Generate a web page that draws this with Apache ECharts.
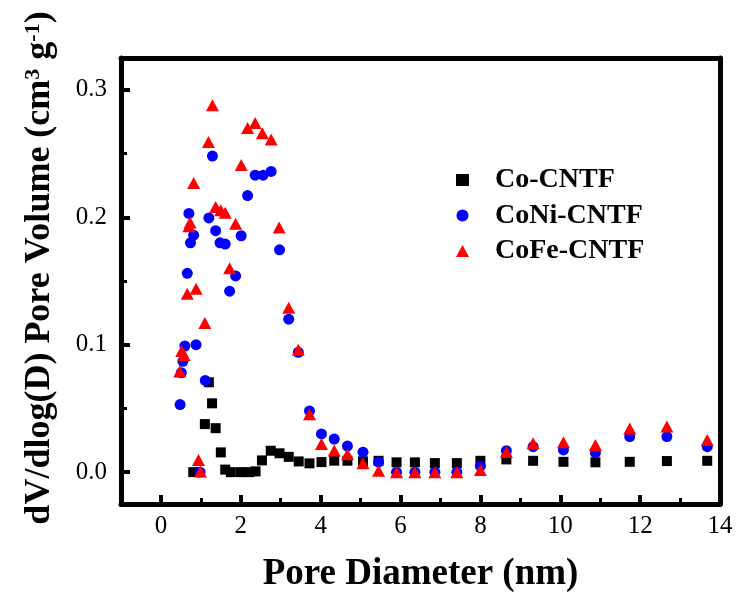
<!DOCTYPE html>
<html>
<head>
<meta charset="utf-8">
<title>Pore size distribution</title>
<script src="https://cdn.jsdelivr.net/npm/echarts@6/dist/echarts.min.js"></script>
<style>
  html, body { margin: 0; padding: 0; background: #fff; }
  #chart { width: 740px; height: 598px; }
</style>
</head>
<body>
<div id="chart"></div>
<script>
// pore diameter (nm) and dV/dlog(D)
var coX = [0.81, 1.10, 1.20, 1.28, 1.37, 1.50, 1.61, 1.75, 2.00, 2.21, 2.37, 2.53, 2.75, 2.97, 3.20, 3.45, 3.72, 4.02, 4.34, 4.67, 5.06, 5.45, 5.90, 6.36, 6.86, 7.41, 8.00, 8.65, 9.32, 10.08, 10.88, 11.74, 12.67, 13.68];
var coY = [0.000, 0.0377, 0.0705, 0.054, 0.0345, 0.0155, 0.002, 0.000, 0.000, 0.000, 0.0006, 0.0092, 0.0168, 0.0148, 0.012, 0.0084, 0.0069, 0.0079, 0.009, 0.009, 0.0084, 0.0089, 0.0077, 0.0077, 0.0071, 0.0071, 0.0089, 0.010, 0.0089, 0.0081, 0.0077, 0.0081, 0.0087, 0.0089];

var coniX = [0.48, 0.51, 0.55, 0.60, 0.66, 0.70, 0.74, 0.82, 0.88, 0.98, 1.11, 1.20, 1.29, 1.37, 1.48, 1.61, 1.72, 1.87, 2.01, 2.17, 2.36, 2.56, 2.76, 2.97, 3.20, 3.44, 3.72, 4.02, 4.34, 4.67, 5.06, 5.45, 5.90, 6.36, 6.86, 7.41, 8.00, 8.65, 9.32, 10.08, 10.88, 11.74, 12.67, 13.68];
var coniY = [0.053, 0.078, 0.087, 0.099, 0.156, 0.203, 0.180, 0.186, 0.100, 0.000, 0.072, 0.1995, 0.248, 0.1895, 0.180, 0.179, 0.142, 0.154, 0.1855, 0.217, 0.233, 0.233, 0.236, 0.1745, 0.120, 0.094, 0.048, 0.030, 0.026, 0.0205, 0.0156, 0.0079, 0.000, 0.000, 0.000, 0.000, 0.0047, 0.0168, 0.020, 0.0174, 0.0152, 0.0279, 0.0279, 0.020];

var cofeX = [0.47, 0.52, 0.58, 0.66, 0.70, 0.73, 0.82, 0.88, 0.94, 0.99, 1.10, 1.19, 1.29, 1.37, 1.50, 1.61, 1.72, 1.87, 2.01, 2.17, 2.36, 2.54, 2.76, 2.96, 3.20, 3.44, 3.72, 4.02, 4.34, 4.67, 5.06, 5.45, 5.90, 6.36, 6.86, 7.41, 8.00, 8.65, 9.32, 10.08, 10.88, 11.74, 12.67, 13.68];
var cofeY = [0.079, 0.095, 0.092, 0.140, 0.193, 0.196, 0.227, 0.144, 0.0095, 0.0005, 0.117, 0.259, 0.288, 0.208, 0.2055, 0.2035, 0.160, 0.195, 0.241, 0.270, 0.274, 0.266, 0.261, 0.192, 0.129, 0.096, 0.0455, 0.022, 0.017, 0.014, 0.0069, 0.001, 0.000, 0.000, 0.000, 0.000, 0.0016, 0.0158, 0.0227, 0.0234, 0.0213, 0.0342, 0.0358, 0.0253];

var seriesNames = ['Co-CNTF', 'CoNi-CNTF', 'CoFe-CNTF'];
var xTicks = [0, 2, 4, 6, 8, 10, 12, 14];
var xMinorTicks = [1, 3, 5, 7, 9, 11, 13];
var yTicks = [0, 0.1, 0.2, 0.3];
var yMinorTicks = [0.05, 0.15, 0.25];

function pairs(xs, ys) {
  var out = [];
  for (var i = 0; i < xs.length; i++) out.push([xs[i], ys[i]]);
  return out;
}

var serif = '"Liberation Serif", "Times New Roman", serif';
var chart = echarts.init(document.getElementById('chart'));

var X_RANGE = { min: -1, max: 14 };
var Y_RANGE = { min: -0.025, max: 0.325 };

// axis that only draws a frame side and/or inward ticks
function frameAxis(range, position, showLine, ticks, len) {
  return {
    type: 'value',
    min: range.min, max: range.max,
    position: position,
    z: 5,
    axisLine: { show: showLine, onZero: false, lineStyle: { color: '#000', width: 5 } },
    axisTick: ticks ? { show: true, inside: true, length: len, lineStyle: { width: 3, color: '#000' }, customValues: ticks } : { show: false },
    axisLabel: { show: false },
    splitLine: { show: false }
  };
}

var option = {
  backgroundColor: '#fff',
  animation: false,
  grid: { left: 121, right: 20, top: 58, bottom: 94, show: false },
  legend: {
    orient: 'vertical',
    left: 456,
    top: 165,
    padding: 0,
    itemGap: 5.5,
    itemWidth: 13,
    itemHeight: 12,
    data: seriesNames,
    textStyle: {
      fontFamily: serif,
      fontWeight: 'bold',
      fontSize: 28,
      color: '#000',
      lineHeight: 30,
      padding: [0, 0, 0, 21]
    }
  },
  xAxis: [{
    type: 'value',
    min: X_RANGE.min, max: X_RANGE.max,
    position: 'bottom',
    z: 5,
    name: 'Pore Diameter (nm)',
    nameLocation: 'middle',
    nameGap: 52,
    nameTextStyle: { fontFamily: serif, fontWeight: 'bold', fontSize: 37, color: '#000' },
    axisLine: { show: true, onZero: false, lineStyle: { color: '#000', width: 5 } },
    axisTick: { show: true, inside: true, length: 9, lineStyle: { width: 4, color: '#000' }, customValues: xTicks },
    axisLabel: { fontFamily: serif, fontSize: 25, color: '#000', margin: 10, customValues: xTicks },
    splitLine: { show: false }
  },
  frameAxis(X_RANGE, 'bottom', false, xMinorTicks, 6),
  frameAxis(X_RANGE, 'top', true, null, 0)],
  yAxis: [{
    type: 'value',
    min: Y_RANGE.min, max: Y_RANGE.max,
    position: 'left',
    z: 5,
    axisLine: { show: true, onZero: false, lineStyle: { color: '#000', width: 5 } },
    axisTick: { show: true, inside: true, length: 9, lineStyle: { width: 4, color: '#000' }, customValues: yTicks },
    axisLabel: {
      fontFamily: serif, fontSize: 25, color: '#000', margin: 14,
      customValues: yTicks,
      formatter: function (v) { return v.toFixed(1); }
    },
    splitLine: { show: false }
  },
  frameAxis(Y_RANGE, 'left', false, yMinorTicks, 6),
  frameAxis(Y_RANGE, 'right', true, null, 0)],
  graphic: [{
    type: 'text',
    x: 40, y: 268,
    rotation: Math.PI / 2,
    style: {
      text: '{t|dV/dlog(D) Pore Volume (cm}{s|3}{t| g}{s|-1}{t|)}',
      align: 'center',
      verticalAlign: 'middle',
      rich: {
        t: { fontFamily: serif, fontWeight: 'bold', fontSize: 36, fill: '#000' },
        s: { fontFamily: serif, fontWeight: 'bold', fontSize: 22, fill: '#000', verticalAlign: 'top', padding: [0, 0, 14, 0] }
      }
    }
  }],
  series: [{
    name: seriesNames[0],
    type: 'scatter',
    symbol: 'rect',
    symbolSize: 10,
    itemStyle: { color: '#000', opacity: 1 },
    data: pairs(coX, coY)
  }, {
    name: seriesNames[1],
    type: 'scatter',
    symbol: 'circle',
    symbolSize: 11,
    itemStyle: { color: '#0000ff', opacity: 1 },
    data: pairs(coniX, coniY)
  }, {
    name: seriesNames[2],
    type: 'scatter',
    symbol: 'triangle',
    symbolSize: [13, 12],
    itemStyle: { color: '#ff0000', opacity: 1 },
    data: pairs(cofeX, cofeY)
  }]
};

chart.setOption(option);
</script>
</body>
</html>
